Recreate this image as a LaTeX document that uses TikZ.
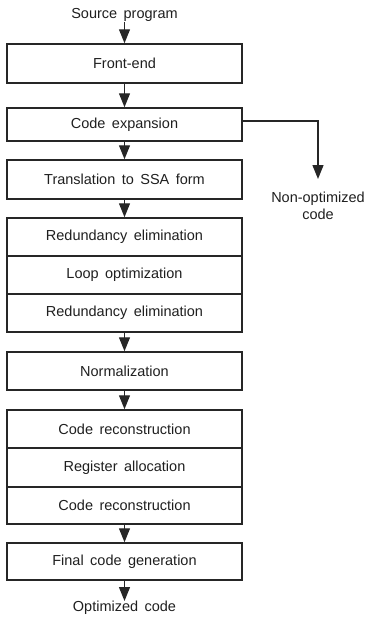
\documentclass[tikz,border=0pt]{standalone}
\usepackage{fontspec}
\setmainfont[WordSpace=1.6]{Liberation Sans}
\usetikzlibrary{arrows.meta}
\begin{document}
\begin{tikzpicture}[x=1pt,y=-1pt,
  lbl/.style={font=\fontsize{14.5}{17}\selectfont, text=black!88, inner sep=0pt},
  stagebox/.style={lbl, draw=black!85, line width=1.5pt, minimum width=235pt},
  flow/.style={draw=black!85, line width=1.3pt, -{Triangle[width=11pt,length=14pt]}},
]
\useasboundingbox (0,0) rectangle (370,619);
\node[lbl] (src) at (124.5,15) {Source program};
\node[stagebox, minimum height=39pt] (fe) at (124.5,63.5) {Front-end};
\node[stagebox, minimum height=33pt] (ce) at (124.5,124.5) {Code expansion};
\node[stagebox, minimum height=39pt] (ssa) at (124.5,179.5) {Translation to SSA form};
\node[stagebox, minimum height=38pt] (r1) at (124.5,237) {Redundancy elimination};
\node[stagebox, minimum height=38pt] (lo) at (124.5,275) {Loop optimization};
\node[stagebox, minimum height=38pt] (r2) at (124.5,313) {Redundancy elimination};
\node[stagebox, minimum height=38pt] (no) at (124.5,371) {Normalization};
\node[stagebox, minimum height=38pt] (cr1) at (124.5,429) {Code reconstruction};
\node[stagebox, minimum height=39pt] (ra) at (124.5,467.5) {Register allocation};
\node[stagebox, minimum height=37pt] (cr2) at (124.5,505.5) {Code reconstruction};
\node[stagebox, minimum height=37pt] (fc) at (124.5,561.5) {Final code generation};
\node[lbl, anchor=north] (opt) at (124.5,601) {Optimized code};
\node[lbl, align=center] (nonopt) at (318,206) {Non-optimized\\code};
\coordinate (bend) at (318,121);
\coordinate (nonoptin) at (318,179);

\draw[flow] (src.south) -- (fe.north);
\draw[flow] (fe.south) -- (ce.north);
\draw[flow] (ce.south) -- (ssa.north);
\draw[flow] (ssa.south) -- (r1.north);
\draw[flow] (r2.south) -- (no.north);
\draw[flow] (no.south) -- (cr1.north);
\draw[flow] (cr2.south) -- (fc.north);
\draw[flow] (fc.south) -- (opt.north);
\draw[flow] (ce.east |- bend) -- (bend) -- (nonoptin);
\end{tikzpicture}
\end{document}
